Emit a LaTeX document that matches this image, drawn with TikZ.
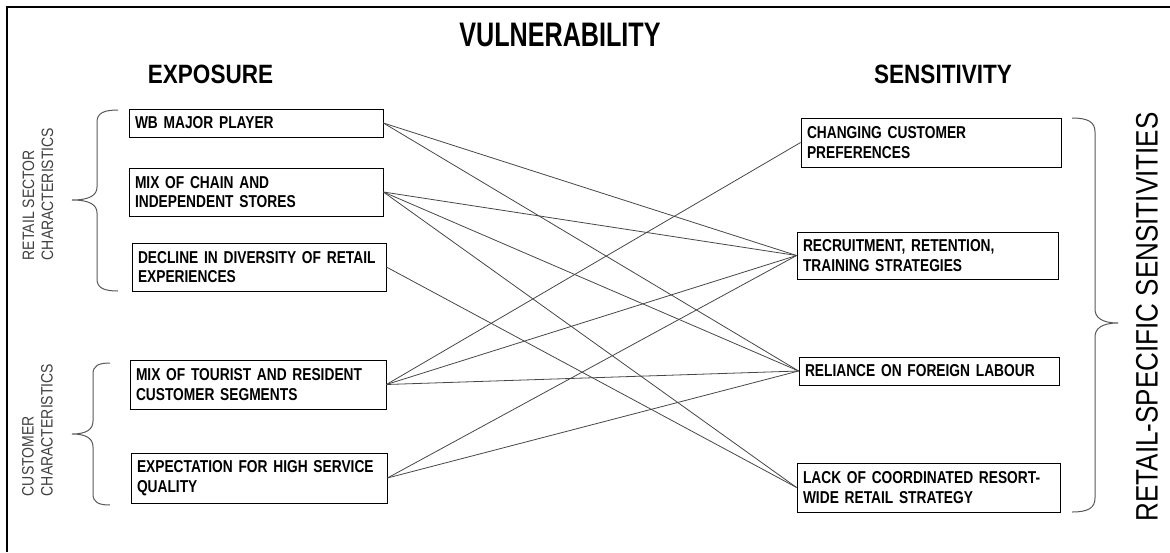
\documentclass[tikz,border=0pt]{standalone}
\usepackage{fontspec}
\setmainfont{Liberation Sans}
\newfontfamily\narrowsf[FakeStretch=0.85]{Liberation Sans}
\newfontfamily\boxsf[FakeStretch=0.80]{Liberation Sans}
\newfontfamily\titlesf[FakeStretch=0.74]{Liberation Sans}
\newfontfamily\bigsf[FakeStretch=0.84]{Liberation Sans}
\tikzset{
  box/.style={draw, line width=0.8pt, rectangle, inner xsep=6pt, inner ysep=1pt, align=left,
    font=\boxsf\bfseries\fontsize{17.2}{19.5}\selectfont},
  link/.style={draw=black!72, line width=0.8pt},
  brace/.style={draw=black!65, line width=1pt},
  header/.style={font=\narrowsf\bfseries\fontsize{26.5}{30}\selectfont},
  sidelabel/.style={rotate=90, align=left, text=black!75, inner sep=0pt,
    font=\narrowsf\fontsize{16.5}{19}\selectfont},
}
\begin{document}
\begin{tikzpicture}[x=1pt, y=-1pt]
\useasboundingbox (0,0) rectangle (1170,552);
% frame
\draw[line width=2pt] (7,552) -- (7,7) -- (1170,7);
% titles
\node[font=\titlesf\bfseries\fontsize{34}{38}\selectfont] (title) at (560,35) {VULNERABILITY};
\node[header] (expo) at (210.5,74) {EXPOSURE};
\node[header] (sens) at (943,74) {SENSITIVITY};
% left boxes
\node[box, text width=242pt, minimum height=28pt] (L1) at (256,123) {\mbox{WB MAJOR PLAYER}};
\node[box, text width=242pt, minimum height=48pt] (L2) at (256,192) {\mbox{MIX OF CHAIN AND}\\\mbox{INDEPENDENT STORES}};
\node[box, text width=242pt, minimum height=48pt] (L3) at (259,267) {\mbox{DECLINE IN DIVERSITY OF RETAIL}\\\mbox{EXPERIENCES}};
\node[box, text width=244pt, minimum height=49pt] (L4) at (258,384.5) {\mbox{MIX OF TOURIST AND RESIDENT}\\\mbox{CUSTOMER SEGMENTS}};
\node[box, text width=244pt, minimum height=50pt] (L5) at (259,478) {\mbox{EXPECTATION FOR HIGH SERVICE}\\\mbox{QUALITY}};
% right boxes
\node[box, text width=248pt, minimum height=49pt] (R1) at (931,142.5) {\mbox{CHANGING CUSTOMER}\\\mbox{PREFERENCES}};
\node[box, text width=249pt, minimum height=47pt] (R2) at (927.5,255.5) {\mbox{RECRUITMENT, RETENTION,}\\\mbox{TRAINING STRATEGIES}};
\node[box, text width=248pt, minimum height=28pt] (R3) at (929,371) {\mbox{RELIANCE ON FOREIGN LABOUR}};
\node[box, text width=251pt, minimum height=49pt] (R4) at (928.5,487.5) {\mbox{LACK OF COORDINATED RESORT-}\\\mbox{WIDE RETAIL STRATEGY}};
% connectors
\draw[link] (L1.east) -- (R2.west);
\draw[link] (L1.east) -- (R3.west);
\draw[link] (L2.east) -- (R2.west);
\draw[link] (L2.east) -- (R3.west);
\draw[link] (L2.east) -- (R4.west);
\draw[link] (L3.east) -- (R4.west);
\draw[link] (L4.east) -- (R1.west);
\draw[link] (L4.east) -- (R2.west);
\draw[link] (L4.east) -- (R3.west);
\draw[link] (L5.east) -- (R2.west);
\draw[link] (L5.east) -- (R3.west);
% braces
\draw[brace] (118,110) .. controls (104,110) and (97,113) .. (97,122) -- (97,187)
  .. controls (97,195) and (90,200) .. (72,200) .. controls (90,200) and (97,205) .. (97,213)
  -- (97,279) .. controls (97,288) and (104,291) .. (118,291);
\draw[brace] (110,363) .. controls (98,363) and (93,366) .. (93,374) -- (93,421)
  .. controls (93,429) and (87,434) .. (72,434) .. controls (87,434) and (93,439) .. (93,447)
  -- (93,494) .. controls (93,502) and (98,505) .. (110,505);
\draw[brace] (1072,118) .. controls (1088,118) and (1095,122) .. (1095,132) -- (1095,309)
  .. controls (1095,317) and (1101,323) .. (1118,323) .. controls (1101,323) and (1095,329) .. (1095,337)
  -- (1095,498) .. controls (1095,508) and (1088,512) .. (1072,512);
% side labels
\node[sidelabel] (lab1) at (38,194) {RETAIL SECTOR\\CHARACTERISTICS};
\node[sidelabel] (lab2) at (37.5,430) {CUSTOMER\\CHARACTERISTICS};
\node[rotate=90, inner sep=0pt, font=\bigsf\fontsize{31}{34}\selectfont] (lab3) at (1147,317) {RETAIL-SPECIFIC SENSITIVITIES};
\end{tikzpicture}
\end{document}
